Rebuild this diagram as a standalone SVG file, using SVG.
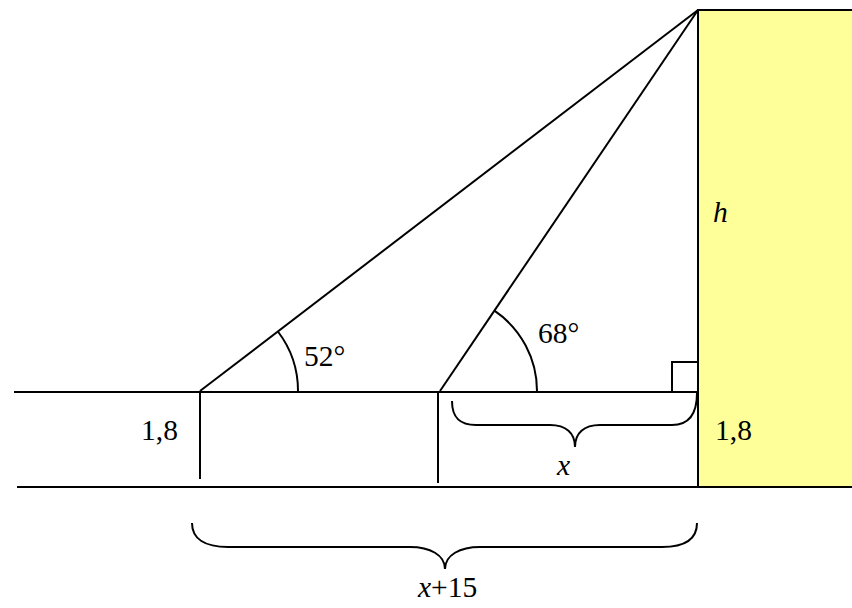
<svg xmlns="http://www.w3.org/2000/svg" width="852" height="608" viewBox="0 0 852 608">
<style>
.ln{fill:none;stroke:#000;stroke-width:2;stroke-linecap:butt}
.t{font-family:"Liberation Serif",Tinos,"Times New Roman","DejaVu Serif",serif;font-size:29.5px;fill:#000}
.i{font-style:italic}
</style>
<rect width="852" height="608" fill="#fff"/>
<g id="building">
<rect x="698" y="10" width="160" height="477" fill="#FFFF99"/>
<path class="ln" d="M698,487 V10 H852"/>
</g>
<g id="connectors">
<path class="ln" d="M14,392 H698"/>
<path class="ln" d="M17,487 H852"/>
<path class="ln" d="M200,392 V479"/>
<path class="ln" d="M438,392 V483"/>
<path class="ln" d="M200,391 L698,10"/>
<path class="ln" d="M440,391 L698,10"/>
<path class="ln" d="M298,391 A98,98 0 0 0 277.9,331.5"/>
<path class="ln" d="M537,391 A97,97 0 0 0 494.4,310.7"/>
<path class="ln" d="M672,391 V362 H697"/>
<path class="ln" d="M452,401 C452,419 461,425 476,425 L550,425 C566,425 575,433 575,447 C575,433 584,425 600,425 L672,425 C689,425 697,414 697,393"/>
<path class="ln" d="M192,523 C192,539 205,547 228,547 L410,547 C430,547 445,555 445,569 C445,555 460,547 480,547 L662,547 C685,547 697,539 697,523"/>
</g>
<g id="labels">
<text class="t i" x="713" y="222">h</text>
<text class="t" x="304" y="366">52°</text>
<text class="t" x="538" y="343">68°</text>
<text class="t" x="141" y="440">1,8</text>
<text class="t" x="715" y="440">1,8</text>
<text class="t i" x="557" y="475">x</text>
<text class="t" x="418" y="597"><tspan class="i">x</tspan>+15</text>
</g>
</svg>
